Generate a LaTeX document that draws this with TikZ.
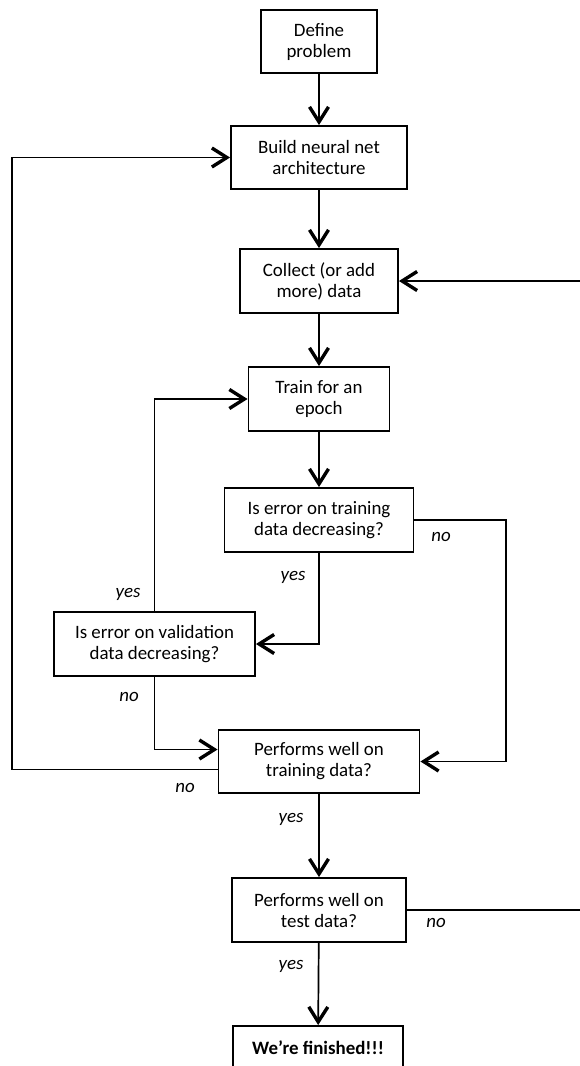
\documentclass[tikz,border=0pt]{standalone}
\usepackage{fontspec}
\setmainfont{Carlito}
\usetikzlibrary{arrows.meta,calc}
\begin{document}
\begin{tikzpicture}[x=1pt,y=-1pt,
  box/.style={draw, line width=1.9pt, align=center, inner sep=0pt, font=\fontsize{18.9}{21}\selectfont},
  lbl/.style={font=\fontsize{18.9}{21}\selectfont\itshape, inner sep=0pt, text height=8.8pt, text depth=0pt},
  conn/.style={line width=1.7pt, line join=miter},
  arr/.style={conn, -{Straight Barb[length=15pt,width=19pt,line width=3.4pt]}}]
\useasboundingbox (0,0) rectangle (580,1066);
\clip (0,0) rectangle (580,1066);

\node[box, minimum width=116pt, minimum height=63pt] (define) at (319,41.5) {Define\\problem};
\node[box, minimum width=176pt, minimum height=63pt] (build) at (319,157.5) {Build neural net\\architecture};
\node[box, minimum width=158pt, minimum height=64pt] (collect) at (319,281) {Collect (or add\\more) data};
\node[box, minimum width=141pt, minimum height=64pt] (train) at (319,399) {Train for an\\epoch};
\node[box, minimum width=189pt, minimum height=64pt] (trainerr) at (319,520) {Is error on training\\data decreasing?};
\node[box, minimum width=201pt, minimum height=64pt] (valerr) at (154.5,644) {Is error on validation\\data decreasing?};
\node[box, minimum width=201pt, minimum height=63pt] (perftrain) at (319,761.5) {Performs well on\\training data?};
\node[box, minimum width=174pt, minimum height=64pt] (perftest) at (319,910) {Performs well on\\test data?};
\node[box, minimum width=170pt, minimum height=44pt, font=\fontsize{18.9}{21}\selectfont\bfseries] (finished) at (318,1048) {We’re finished!!!};

\coordinate (lrail) at (12,0);
\coordinate (rrail) at (506,0);
\coordinate (offr) at (600,0);

\draw[arr] (define) -- (build);
\draw[arr] (build) -- (collect);
\draw[arr] (collect) -- (train);
\draw[arr] (train) -- (trainerr);
\draw[arr] (trainerr.south) |- (valerr.east);
\draw[arr] (trainerr.east) -- (trainerr.east -| rrail) |- (perftrain.east);
\draw[arr] (valerr.north) |- (train.west);
\draw[arr] (valerr.south) |- ($(perftrain.west)+(0,-12)$);
\draw[arr] ($(perftrain.west)+(0,8)$) -| (lrail |- build.west) -- (build.west);
\draw[arr] (perftrain) -- (perftest);
\draw[arr] (perftest.east) -- (perftest.east -| offr) -- (collect.east -| offr) -- (collect.east);
\draw[arr] (perftest) -- (finished);

\node[lbl] (yes1) at (293,576) {yes};
\node[lbl] (no1) at (441,537) {no};
\node[lbl] (yes2) at (128,593) {yes};
\node[lbl] (no2) at (129,697) {no};
\node[lbl] (no3) at (185,788) {no};
\node[lbl] (yes3) at (291,818) {yes};
\node[lbl] (no4) at (436,923) {no};
\node[lbl] (yes4) at (291,965) {yes};
\end{tikzpicture}
\end{document}
